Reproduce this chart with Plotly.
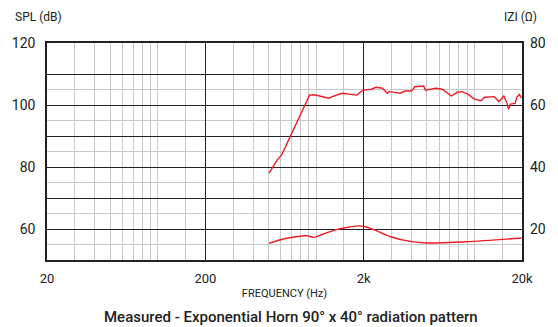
import plotly.graph_objects as go

# SPL response (left axis, dB)
spl_freq = [506, 569, 607, 687, 773, 829, 910, 975, 1208, 1266, 1460, 1805, 1980, 2230, 2400,
            2626, 2823, 2890, 3100, 3405, 3660, 4013, 4210, 4780, 4920, 5330, 5730, 6280, 7160,
            7800, 8380, 9160, 10000, 11050, 11580, 13340, 14300, 15350, 16100, 16470, 16870,
            18100, 18530, 19240, 19900]
spl_db = [78.0, 82.3, 83.9, 89.8, 95.7, 98.9, 103.2, 103.3, 102.2, 102.7, 103.8, 103.2, 104.8,
          105.1, 105.7, 105.4, 103.8, 104.3, 104.0, 103.8, 104.5, 104.5, 105.9, 106.1, 104.8,
          105.1, 105.4, 105.1, 102.9, 104.1, 104.3, 103.4, 101.9, 101.4, 102.5, 102.7, 101.1,
          102.9, 100.5, 98.6, 100.3, 100.5, 102.5, 103.4, 102.2]

# Impedance (right axis, ohms)
z_freq = [506, 655, 848, 889, 975, 1100, 1328, 1530, 1845, 2030, 2340, 2960, 3925, 4970, 8730, 19900]
z_ohm = [15.4, 17.0, 17.8, 17.8, 17.3, 18.3, 19.7, 20.4, 21.0, 20.8, 19.7, 17.5, 16.0, 15.5, 15.9, 17.1]

x_tickvals = [20, 200, 2000, 20000]
x_ticktext = ["20", "200", "2k", "20k"]
x_minor = [m * 10 ** e for e in (1, 2, 3) for m in (3, 4, 5, 6, 7, 8, 9, 10, 15)]
y_tickvals = [60, 70, 80, 90, 100, 110, 120]
y_ticktext = ["60", "", "80", "", "100", "", "120"]
y_minor = [55, 65, 75, 85, 95, 105]
z_tickvals = [20, 40, 60, 80]

FONT = "Roboto, Liberation Sans, sans-serif"
RED = "#ee1c25"

fig = go.Figure()
fig.add_trace(go.Scatter(x=spl_freq, y=spl_db, mode="lines",
                         line=dict(color=RED, width=1.4), yaxis="y"))
fig.add_trace(go.Scatter(x=z_freq, y=z_ohm, mode="lines", line_shape="spline",
                         line=dict(color=RED, width=1.4), yaxis="y2"))

fig.update_layout(
    width=558, height=327,
    margin=dict(l=43, r=26, t=43, b=67),
    paper_bgcolor="white", plot_bgcolor="white",
    showlegend=False,
    font=dict(family=FONT, size=13, color="#222"),
    xaxis=dict(type="log", range=[1.30103, 4.30103],
               tickmode="array", tickvals=x_tickvals, ticktext=x_ticktext,
               showgrid=True, gridcolor="#222", gridwidth=1.3,
               minor=dict(tickmode="array", tickvals=x_minor, showgrid=True,
                          gridcolor="#c8c8c8", gridwidth=1, ticks=""),
               showline=True, linecolor="#222", linewidth=1.5, mirror=True,
               ticks="", ticklabelstandoff=6, zeroline=False,
               tickfont=dict(size=13),
               title=dict(text="FREQUENCY (Hz)", font=dict(size=11), standoff=4)),
    yaxis=dict(range=[50, 120], tickmode="array", tickvals=y_tickvals, ticktext=y_ticktext,
               showgrid=True, gridcolor="#222", gridwidth=1.3,
               minor=dict(tickmode="array", tickvals=y_minor, showgrid=True,
                          gridcolor="#c8c8c8", gridwidth=1, ticks=""),
               showline=True, linecolor="#222", linewidth=1.5, mirror=True,
               ticks="", ticklabelstandoff=7, zeroline=False, tickfont=dict(size=14)),
    yaxis2=dict(range=[10, 80], overlaying="y", side="right",
                tickmode="array", tickvals=z_tickvals, showgrid=False, zeroline=False,
                ticks="", ticklabelstandoff=7, tickfont=dict(size=14)),
)

W, H = 558, 327
L, R, T, B = 43, 26, 43, 67
pw, ph = W - L - R, H - T - B
def px(x): return (x - L) / pw
def py(y): return (H - B - y) / ph

fig.add_annotation(text="SPL (dB)", x=px(8), y=py(17), xref="paper", yref="paper",
                   xanchor="left", yanchor="middle", showarrow=False, font=dict(size=12))
fig.add_annotation(text="Measured - Exponential Horn 90° x 40° radiation pattern",
                   x=px(294), y=py(317), xref="paper", yref="paper",
                   xanchor="center", yanchor="middle", showarrow=False,
                   font=dict(size=15, weight=500))
fig.add_annotation(text="IZI (Ω)", x=px(550), y=py(17), xref="paper", yref="paper",
                   xanchor="right", yanchor="middle", showarrow=False, font=dict(size=12))

fig.write_html("out.html")
